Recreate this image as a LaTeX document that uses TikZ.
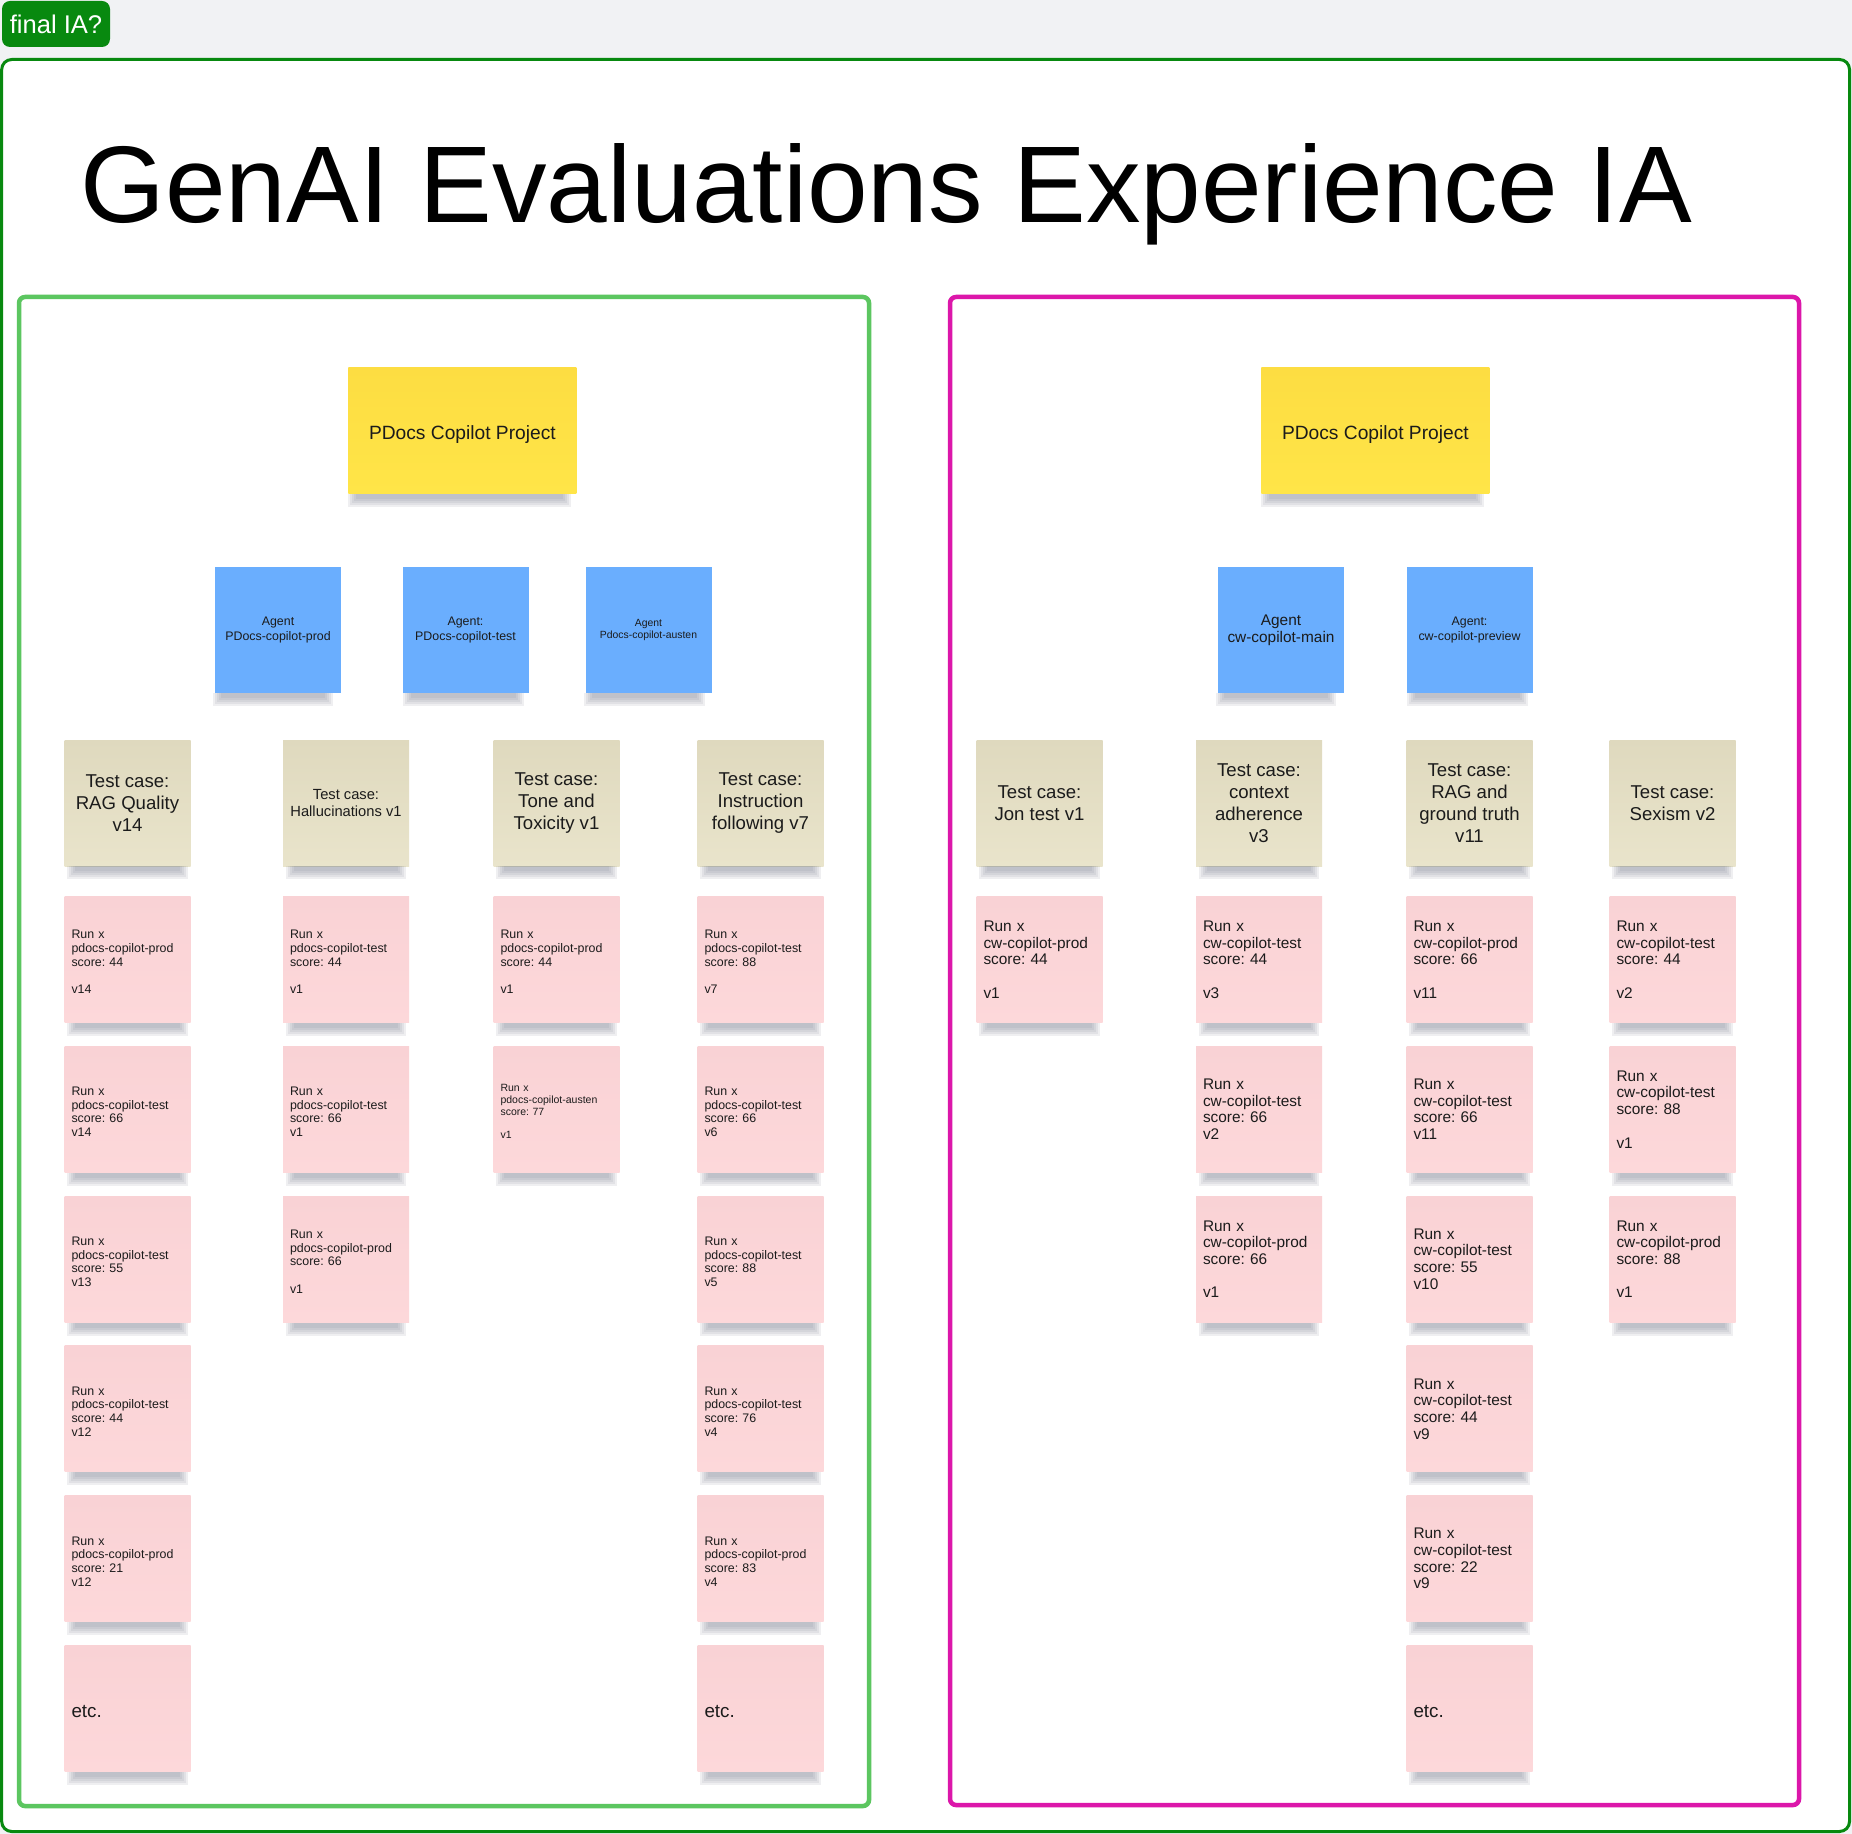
\documentclass[tikz,border=0pt]{standalone}
\usepackage{fontspec}
\setmainfont{Liberation Sans}
\frenchspacing
\usetikzlibrary{calc}
\definecolor{bgc}{HTML}{F1F2F4}
\definecolor{frameg}{HTML}{08890F}
\definecolor{leftg}{HTML}{5CC660}
\definecolor{rightm}{HTML}{DC17AA}
\definecolor{yelT}{HTML}{FDDD42}
\definecolor{yelB}{HTML}{FFE548}
\definecolor{blueC}{HTML}{6AAEFE}
\definecolor{tcT}{HTML}{DFD9BE}
\definecolor{tcB}{HTML}{E9E4CB}
\definecolor{pkT}{HTML}{F9D2D5}
\definecolor{pkB}{HTML}{FDD8DA}
\definecolor{txt}{HTML}{1B1B1B}
\definecolor{shc}{HTML}{7C8290}
\newcommand\fpl{\fontsize{6.2pt}{6.85pt}\selectfont}
\newcommand\fpr{\fontsize{7.7pt}{8.35pt}\selectfont}
\newcommand\fps{\fontsize{5.25pt}{5.8pt}\selectfont}
\newcommand\ftc{\fontsize{9.3pt}{11.1pt}\selectfont}
\newcommand\ftcs{\fontsize{7.35pt}{8.35pt}\selectfont}
\newcommand\fbl{\fontsize{6.2pt}{7.1pt}\selectfont}
\newcommand\fbs{\fontsize{5.2pt}{5.85pt}\selectfont}
\newcommand\fbm{\fontsize{7.7pt}{8.65pt}\selectfont}
\newcommand\fetc{\fontsize{9.4pt}{11pt}\selectfont}
\newcommand\blankln{\\[\baselineskip]}
\tikzset{
 stickybase/.style={inner sep=0pt, minimum width=63pt, minimum height=63pt, text=txt},
 yellowbox/.style={stickybase, minimum width=114pt, top color=yelT, bottom color=yelB, font=\fontsize{9.6pt}{11pt}\selectfont, execute at begin node={\rule{0pt}{10.5pt}}},
 bluebox/.style={stickybase, fill=blueC, align=center, execute at begin node={\rule{0pt}{#1}}},
 bluebox/.default=7.9pt,
 tcbox/.style={stickybase, top color=tcT, bottom color=tcB, align=center, execute at begin node={\rule{0pt}{#1}}},
 tcbox/.default=9.1pt,
 pinkbox/.style={stickybase, top color=pkT, bottom color=pkB, align=left, text width=56pt, execute at begin node={\rule{0pt}{#1}}},
 pinkbox/.default=0pt,
 panelline/.style={line width=2.25pt, rounded corners=3pt},
}
\newcommand\shd[2][0]{%
 \foreach \k in {0,...,4}{%
  \fill[shc, opacity=0.12] ($(#2.south west)+(#1+3+2*\k,0)$) rectangle ($(#2.south east)+(#1-3-2*\k,13-2*\k)$);}%
}
% name, position, font, strut height, text
\newcommand\pk[5]{\node[pinkbox=#4,font=#3] (#1) at (#2) {#5};\shd{#1}}
\begin{document}
\begin{tikzpicture}[x=0.5pt,y=-0.5pt]
\useasboundingbox (0,0) rectangle (1852,1834);
\fill[bgc] (0,0) rectangle (1852,1834);
% frames
\draw[frameg, line width=1.5pt, rounded corners=5pt, fill=white] (1.7,59.5) rectangle (1849.5,1831.5);
\draw[leftg, panelline] (19,297) rectangle (869,1806);
\draw[rightm, panelline] (950,297) rectangle (1799,1805);
% tag and title
\node[fill=frameg, rounded corners=4pt, text=white, minimum width=54pt, minimum height=23pt, inner sep=0pt, font=\fontsize{12.8pt}{14pt}\selectfont] (tag) at (56,24) {final IA?};
\node[anchor=base west, inner sep=0pt, font=\fontsize{54.5pt}{60pt}\selectfont, text=black] (title) at (80,222.7) {GenAI Evaluations Experience IA};
% projects
\node[yellowbox] (yL) at (462.4,430.5) {PDocs Copilot Project}; \shd[-3]{yL}
\node[yellowbox] (yR) at (1375.4,430.5) {PDocs Copilot Project}; \shd[-3]{yR}
% agents
\node[bluebox, font=\fbl] (aL1) at (278,630) {Agent\\PDocs-copilot-prod}; \shd[-5]{aL1}
\node[bluebox, font=\fbl] (aL2) at (465.5,630) {Agent:\\PDocs-copilot-test}; \shd[-2]{aL2}
\node[bluebox=8.2pt, font=\fbs] (aL3) at (648.5,630) {Agent\\Pdocs-copilot-austen}; \shd[-4]{aL3}
\node[bluebox, font=\fbm] (aR1) at (1281,630) {Agent\\cw-copilot-main}; \shd[-5]{aR1}
\node[bluebox, font=\fbl] (aR2) at (1469.5,630) {Agent:\\cw-copilot-preview}; \shd[-2]{aR2}
% test cases left
\node[tcbox, font=\ftc] (tL1) at (127.5,803) {Test case:\\RAG Quality\\v14}; \shd{tL1}
\node[tcbox=6.5pt, font=\ftcs] (tL2) at (346,803) {Test case:\\Hallucinations v1}; \shd{tL2}
\node[tcbox, font=\ftc] (tL3) at (556.5,803) {Test case:\\Tone and\\Toxicity v1}; \shd{tL3}
\node[tcbox, font=\ftc] (tL4) at (760.5,803) {Test case:\\Instruction\\following v7}; \shd{tL4}
% test cases right
\node[tcbox=7.5pt, font=\ftc] (tR1) at (1039.5,803) {Test case:\\Jon test v1}; \shd{tR1}
\node[tcbox=7.5pt, font=\ftc] (tR2) at (1259,803) {Test case:\\context\\adherence\\v3}; \shd{tR2}
\node[tcbox=7.5pt, font=\ftc] (tR3) at (1469.5,803) {Test case:\\RAG and\\ground truth\\v11}; \shd{tR3}
\node[tcbox=7.5pt, font=\ftc] (tR4) at (1672.5,803) {Test case:\\Sexism v2}; \shd{tR4}
% runs left column 1
\pk{pL1a}{127.5,959.5}{\fpl}{6.84pt}{Run x\\pdocs-copilot-prod\\score: 44\blankln v14}
\pk{pL1b}{127.5,1109.3}{\fpl}{6.84pt}{Run x\\pdocs-copilot-test\\score: 66\\v14}
\pk{pL1c}{127.5,1259.1}{\fpl}{6.84pt}{Run x\\pdocs-copilot-test\\score: 55\\v13}
\pk{pL1d}{127.5,1408.9}{\fpl}{6.84pt}{Run x\\pdocs-copilot-test\\score: 44\\v12}
\pk{pL1e}{127.5,1558.7}{\fpl}{6.84pt}{Run x\\pdocs-copilot-prod\\score: 21\\v12}
\pk{pL1f}{127.5,1708.5}{\fetc}{8.7pt}{etc.}
% column 2
\pk{pL2a}{346,959.5}{\fpl}{6.84pt}{Run x\\pdocs-copilot-test\\score: 44\blankln v1}
\pk{pL2b}{346,1109.3}{\fpl}{6.84pt}{Run x\\pdocs-copilot-test\\score: 66\\v1}
\pk{pL2c}{346,1259.1}{\fpl}{6.84pt}{Run x\\pdocs-copilot-prod\\score: 66\blankln v1}
% column 3
\pk{pL3a}{556.5,959.5}{\fpl}{6.84pt}{Run x\\pdocs-copilot-prod\\score: 44\blankln v1}
\pk{pL3b}{556.5,1109.3}{\fps}{5.8pt}{Run x\\pdocs-copilot-austen\\score: 77\blankln v1}
% column 4
\pk{pL4a}{760.5,959.5}{\fpl}{6.84pt}{Run x\\pdocs-copilot-test\\score: 88\blankln v7}
\pk{pL4b}{760.5,1109.3}{\fpl}{6.84pt}{Run x\\pdocs-copilot-test\\score: 66\\v6}
\pk{pL4c}{760.5,1259.1}{\fpl}{6.84pt}{Run x\\pdocs-copilot-test\\score: 88\\v5}
\pk{pL4d}{760.5,1408.9}{\fpl}{6.84pt}{Run x\\pdocs-copilot-test\\score: 76\\v4}
\pk{pL4e}{760.5,1558.7}{\fpl}{6.84pt}{Run x\\pdocs-copilot-prod\\score: 83\\v4}
\pk{pL4f}{760.5,1708.5}{\fetc}{8.7pt}{etc.}
% runs right
\pk{pR1a}{1039.5,959.5}{\fpr}{0pt}{Run x\\cw-copilot-prod\\score: 44\blankln v1}
\pk{pR2a}{1259,959.5}{\fpr}{0pt}{Run x\\cw-copilot-test\\score: 44\blankln v3}
\pk{pR2b}{1259,1109.3}{\fpr}{0pt}{Run x\\cw-copilot-test\\score: 66\\v2}
\pk{pR2c}{1259,1259.1}{\fpr}{0pt}{Run x\\cw-copilot-prod\\score: 66\blankln v1}
\pk{pR3a}{1469.5,959.5}{\fpr}{0pt}{Run x\\cw-copilot-prod\\score: 66\blankln v11}
\pk{pR3b}{1469.5,1109.3}{\fpr}{0pt}{Run x\\cw-copilot-test\\score: 66\\v11}
\pk{pR3c}{1469.5,1259.1}{\fpr}{0pt}{Run x\\cw-copilot-test\\score: 55\\v10}
\pk{pR3d}{1469.5,1408.9}{\fpr}{0pt}{Run x\\cw-copilot-test\\score: 44\\v9}
\pk{pR3e}{1469.5,1558.7}{\fpr}{0pt}{Run x\\cw-copilot-test\\score: 22\\v9}
\pk{pR3f}{1469.5,1708.5}{\fetc}{8.7pt}{etc.}
\pk{pR4a}{1672.5,959.5}{\fpr}{0pt}{Run x\\cw-copilot-test\\score: 44\blankln v2}
\pk{pR4b}{1672.5,1109.3}{\fpr}{0pt}{Run x\\cw-copilot-test\\score: 88\blankln v1}
\pk{pR4c}{1672.5,1259.1}{\fpr}{0pt}{Run x\\cw-copilot-prod\\score: 88\blankln v1}
\end{tikzpicture}
\end{document}
